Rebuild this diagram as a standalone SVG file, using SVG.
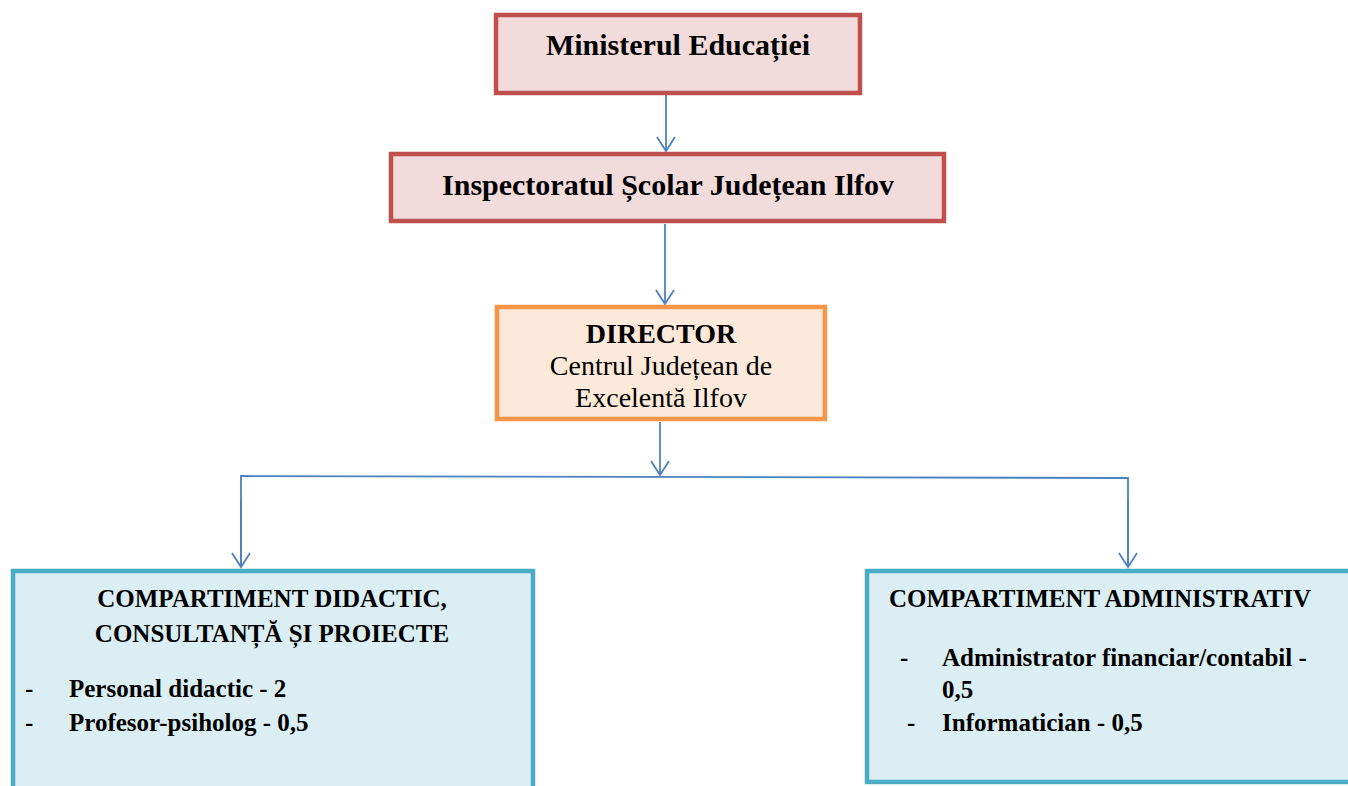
<svg xmlns="http://www.w3.org/2000/svg" width="1348" height="786" viewBox="0 0 1348 786">
<style>
.red{fill:#F2DCDB;stroke:#C0504D;stroke-width:4.5}
.org{fill:#FDE9D9;stroke:#F79646;stroke-width:4.5}
.blu{fill:#DAEEF3;stroke:#4BACC6;stroke-width:4.5}
.t{font-family:"Liberation Serif","Times New Roman",serif;fill:#000}
.b{font-weight:bold}
.c{text-anchor:middle}
.ln{fill:none;stroke:#4F81BD;stroke-width:1.8}
</style>
<defs>
<marker id="ah" markerUnits="userSpaceOnUse" markerWidth="30" markerHeight="30" refX="0" refY="0" orient="auto" overflow="visible">
<path d="M-14,-9 L0,0 L-14,9" fill="none" stroke="#4F81BD" stroke-width="1.8"/>
</marker>
</defs>
<rect width="1348" height="786" fill="#fff"/>
<g id="connectors">
<line class="ln" x1="666" y1="95" x2="666" y2="151" marker-end="url(#ah)"/>
<line class="ln" x1="665" y1="224" x2="665" y2="304" marker-end="url(#ah)"/>
<line class="ln" x1="660" y1="422" x2="660" y2="475" marker-end="url(#ah)"/>
<polyline class="ln" points="241,567 241,476 1128,478 1128,567"/>
<line class="ln" x1="241" y1="500" x2="241" y2="567" marker-end="url(#ah)"/>
<line class="ln" x1="1128" y1="500" x2="1128" y2="567" marker-end="url(#ah)"/>
</g>
<g id="ministerul">
<rect class="red" x="496" y="15" width="364" height="78"/>
<text class="t b c" x="678" y="55" font-size="30">Ministerul Educației</text>
</g>
<g id="inspectoratul">
<rect class="red" x="391" y="154" width="553" height="67"/>
<text class="t b c" x="668" y="195" font-size="30">Inspectoratul Școlar Județean Ilfov</text>
</g>
<g id="director">
<rect class="org" x="497" y="307" width="328" height="112"/>
<text class="t b c" x="661" y="343" font-size="28">DIRECTOR</text>
<text class="t c" x="661" y="375" font-size="28">Centrul Județean de</text>
<text class="t c" x="661" y="407" font-size="28">Excelentă Ilfov</text>
</g>
<g id="didactic">
<rect class="blu" x="13" y="571" width="520" height="240"/>
<text class="t b c" x="272" y="607" font-size="25">COMPARTIMENT DIDACTIC,</text>
<text class="t b c" x="272" y="642" font-size="25">CONSULTANȚĂ ȘI PROIECTE</text>
<text class="t b" x="25" y="697" font-size="25">-</text>
<text class="t b" x="69" y="697" font-size="25">Personal didactic - 2</text>
<text class="t b" x="25" y="731" font-size="25">-</text>
<text class="t b" x="69" y="731" font-size="25">Profesor-psiholog - 0,5</text>
</g>
<g id="administrativ">
<rect class="blu" x="867" y="571" width="500" height="211"/>
<text class="t b" x="889" y="607" font-size="25">COMPARTIMENT ADMINISTRATIV</text>
<text class="t b" x="900" y="666" font-size="25">-</text>
<text class="t b" x="942" y="666" font-size="25">Administrator financiar/contabil -</text>
<text class="t b" x="942" y="698" font-size="25">0,5</text>
<text class="t b" x="907" y="731" font-size="25">-</text>
<text class="t b" x="942" y="731" font-size="25">Informatician - 0,5</text>
</g>
</svg>
